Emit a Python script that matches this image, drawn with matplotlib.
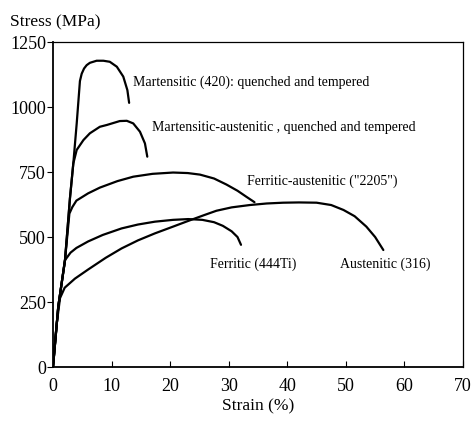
import matplotlib
matplotlib.use("Agg")
import matplotlib.pyplot as plt

plt.rcParams['font.family'] = ['Liberation Serif', 'DejaVu Serif']

# strain (%) / stress (MPa)
mart_x = [0, 0.9, 2.05, 2.9, 3.47, 4.05, 4.6, 4.9, 5.3, 5.75, 6.3, 7.45, 8.6, 9.7, 10.9, 12.0, 12.7, 13.0]
mart_y = [0, 232, 411, 650, 783, 937, 1100, 1128, 1148, 1161, 1170, 1178, 1178, 1174, 1155, 1117, 1065, 1016]

marta_x = [0, 0.9, 2.05, 2.9, 3.47, 4.05, 5.2, 6.3, 8.0, 9.2, 11.4, 12.6, 13.7, 14.85, 15.7, 16.1]
marta_y = [0, 232, 411, 650, 783, 835, 873, 899, 924, 931, 946, 947, 937, 905, 860, 809]

fa_x = [0, 0.9, 2.05, 2.8, 3.3, 4.0, 6.0, 8.0, 11.0, 13.7, 17.0, 20.5, 23.0, 25.1, 27.5, 29.6, 31.5, 33.0, 34.4]
fa_y = [0, 232, 411, 590, 615, 640, 668, 690, 715, 732, 743, 748, 746, 740, 725, 702, 678, 655, 634]

fer_x = [0, 0.9, 2.05, 3.0, 4.0, 6.0, 8.5, 11.7, 14.5, 17.4, 20.5, 23.1, 25.5, 27.5, 29.0, 30.5, 31.5, 32.1]
fer_y = [0, 232, 411, 440, 458, 483, 508, 533, 548, 559, 566, 569, 566, 557, 543, 522, 500, 470]

aus_x = [0, 0.6, 1.2, 2.0, 3.75, 6.0, 9.0, 11.7, 14.5, 17.4, 20.5, 23.1, 25.9, 27.9, 30.5, 33.6,
         36.5, 39.3, 42.0, 45.0, 47.5, 49.6, 51.5, 53.5, 55.0, 56.4]
aus_y = [0, 160, 265, 305, 340, 375, 420, 456, 487, 514, 540, 562, 585, 601, 614, 623,
         629, 632, 633, 632, 623, 604, 580, 540, 500, 450]

curves = [(mart_x, mart_y), (marta_x, marta_y), (fa_x, fa_y), (fer_x, fer_y), (aus_x, aus_y)]

labels = ["Martensitic (420): quenched and tempered",
          "Martensitic-austenitic , quenched and tempered",
          "Ferritic-austenitic (\"2205\")",
          "Ferritic (444Ti)",
          "Austenitic (316)"]
label_x = [13.7, 16.9, 33.1, 26.8, 49.0]
label_y = [1096, 923, 716, 397, 397]

fig = plt.figure(figsize=(4.71, 4.24), dpi=100)
ax = fig.add_axes([0.1125, 0.1344, 0.8705, 0.7665])

for cx, cy in curves:
    ax.plot(cx, cy, color='black', lw=1.6, solid_capstyle='round', solid_joinstyle='round')

for t, lx, ly in zip(labels, label_x, label_y):
    ax.text(lx, ly, t, fontsize=10, ha='left', va='center')

ax.set_xlim(0, 70)
ax.set_ylim(0, 1250)
ax.set_xticks(range(0, 71, 10))
ax.set_yticks([0, 250, 500, 750, 1000, 1250])
ax.tick_params(axis='x', direction='in', length=4, pad=8, labelsize=13)
ax.tick_params(axis='y', direction='out', length=4, pad=1, labelsize=13)
for s in ax.spines.values():
    s.set_linewidth(0.9)
ax.spines['bottom'].set_linewidth(1.3)
ax.spines['left'].set_linewidth(1.3)

ax.set_xlabel("Strain (%)", fontsize=12.5, labelpad=2)
fig.text(0.022, 0.948, "Stress (MPa)", fontsize=12.5, ha='left', va='center')

fig.savefig("out.png", dpi=100)
